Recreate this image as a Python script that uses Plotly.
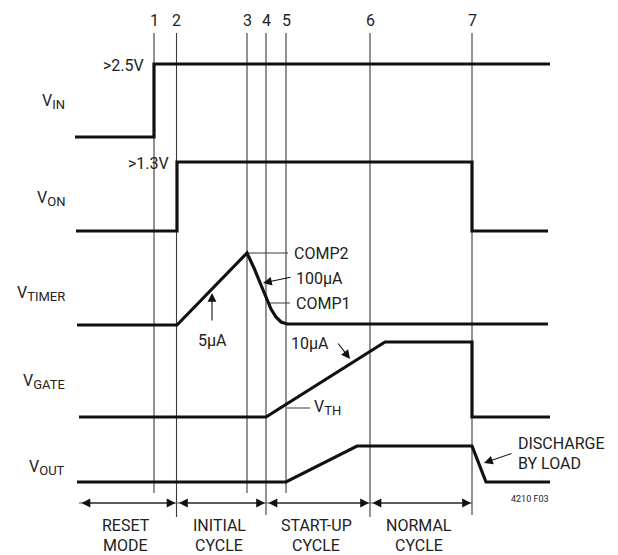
import plotly.graph_objects as go

# ---- data (diagram units: time on x, level on y; y grows downward) ----
event_labels = ["1", "2", "3", "4", "5", "6", "7"]
event_times = [154, 176.5, 247, 266, 286, 370, 472]
event_line_ends = [493, 517, 493, 515, 493, 517, 515]

signal_base = ["V", "V", "V", "V", "V"]
signal_subs = ["IN", "ON", "TIMER", "GATE", "OUT"]
signal_label_y = [101, 198, 293, 381, 467]

vin_t = [75, 154, 154, 550]
vin_v = [137, 137, 64, 64]
von_t = [76, 177, 177, 472, 472, 548]
von_v = [231, 231, 162, 162, 231, 231]
vtimer_t = [77, 177, 247, 254, 261, 266, 271, 276, 281, 287, 548]
vtimer_v = [325, 325, 253, 268, 285, 298, 309, 317, 322, 324, 324]
vgate_t = [79, 266, 385, 472, 472, 550]
vgate_v = [417, 417, 342, 342, 417, 417]
vout_t = [77, 286, 357, 472, 486, 550]
vout_v = [482, 482, 446, 446, 482, 482]

phase_names = [("RESET", "MODE"), ("INITIAL", "CYCLE"), ("START-UP", "CYCLE"), ("NORMAL", "CYCLE")]
phase_bounds = [(79, 176.5), (176.5, 266), (266, 370), (370, 472)]
phase_row_y = 503

FONT = "Roboto, Liberation Sans, sans-serif"
TXT = "#222222"

fig = go.Figure()

# guide lines
gx, gy = [], []
for t, e in zip(event_times, event_line_ends):
    gx += [t, t, None]
    gy += [33, e, None]
fig.add_trace(go.Scatter(x=gx, y=gy, mode="lines", line=dict(color="#3a3a3a", width=1.1),
                         hoverinfo="skip", showlegend=False))

# leader lines
lx = [247, 288, None, 268, 290, None, 287, 310]
ly = [253, 253, None, 303, 303, None, 408, 408]
fig.add_trace(go.Scatter(x=lx, y=ly, mode="lines", line=dict(color="#3a3a3a", width=1),
                         hoverinfo="skip", showlegend=False))

# phase row lines
px, py = [], []
for a, b in phase_bounds:
    px += [a, b, None]
    py += [phase_row_y, phase_row_y, None]
fig.add_trace(go.Scatter(x=px, y=py, mode="lines", line=dict(color="#555555", width=1.2),
                         hoverinfo="skip", showlegend=False))

# signals
for t, v in [(vin_t, vin_v), (von_t, von_v), (vtimer_t, vtimer_v), (vgate_t, vgate_v), (vout_t, vout_v)]:
    fig.add_trace(go.Scatter(x=t, y=v, mode="lines", line=dict(color="#111111", width=3.2),
                             hoverinfo="skip", showlegend=False))

ann = []
def text(x, y, s, size=16, xanchor="center"):
    ann.append(dict(x=x, y=y, xref="x", yref="y", text=s, showarrow=False,
                    font=dict(family=FONT, size=size, color=TXT), xanchor=xanchor, yanchor="middle"))

def arrow(x0, y0, x1, y1, both=False):
    ann.append(dict(x=x1, y=y1, ax=x0, ay=y0, xref="x", yref="y", axref="x", ayref="y",
                    text="", showarrow=True, arrowhead=2, arrowsize=1.6, arrowwidth=1.1,
                    arrowcolor="#111111", standoff=0, startstandoff=0,
                    arrowside="end+start" if both else "end", startarrowhead=2, startarrowsize=1.6))

def subbed(base, sub):
    return f"{base}<sub><span style='font-size:13px'>{sub}</span></sub>"

for lab, t in zip(event_labels, event_times):
    text(t, 20, lab)
for b, s, y in zip(signal_base, signal_subs, signal_label_y):
    text(67, y, subbed(b, s), xanchor="right")

text(146, 65, ">2.5V", xanchor="right")
text(171, 163, ">1.3V", xanchor="right")
text(292, 253, "COMP2", xanchor="left")
text(294, 278, "100µA", xanchor="left")
text(294, 303, "COMP1", xanchor="left")
text(212, 340, "5µA")
text(310, 343, "10µA")
text(312, 407, subbed("V", "TH"), xanchor="left")
text(516, 443, "DISCHARGE", xanchor="left")
text(516, 463, "BY LOAD", xanchor="left")
text(530, 499, "4210 F03", size=9)

for (a, b), (l1, l2) in zip(phase_bounds, phase_names):
    c = (a + b) / 2 - 2
    text(c, 525, l1)
    text(c, 545, l2)

arrow(292, 277, 263, 283)
arrow(212, 322, 212, 293)
arrow(337, 342, 350, 359)
arrow(513, 453, 484, 463)
for a, b in phase_bounds:
    arrow(a + 1, phase_row_y, b - 1, phase_row_y, both=True)

# The page body has an 8px margin; size the figure so data units match page pixels.
fig.update_layout(
    width=610, height=547, margin=dict(l=0, r=0, t=0, b=0),
    paper_bgcolor="white", plot_bgcolor="white",
    xaxis=dict(range=[8, 618], visible=False, fixedrange=True),
    yaxis=dict(range=[555, 8], visible=False, fixedrange=True),
    annotations=ann, showlegend=False,
)
fig.write_html("out.html")
